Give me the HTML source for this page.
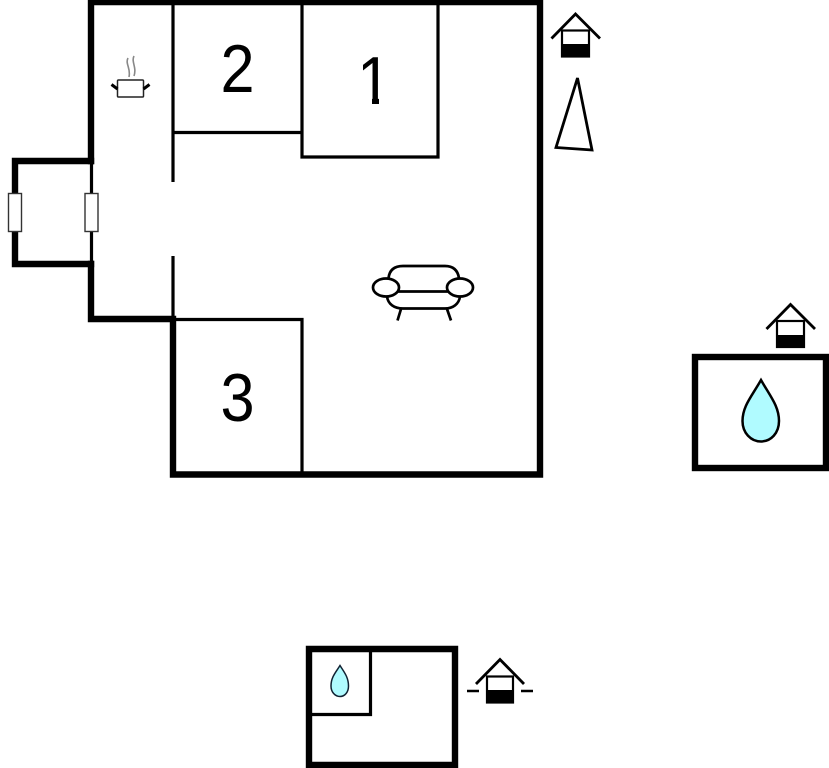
<!DOCTYPE html>
<html>
<head>
<meta charset="utf-8">
<style>
html,body{margin:0;padding:0;background:#fff;width:829px;height:768px;overflow:hidden}
svg{display:block}
text{font-family:"Liberation Sans",sans-serif;font-size:68px;fill:#000;text-anchor:middle}
</style>
</head>
<body>
<svg width="829" height="768" viewBox="0 0 829 768" xmlns="http://www.w3.org/2000/svg" fill="none" stroke="#000">
<!-- main outer walls -->
<g stroke-width="6.400" stroke-linecap="square">
<path d="M91 161V2H540V474.500H173V319H91V264"/>
<path d="M15 161H91M15 264H91M15 161V264"/>
</g>
<!-- thin walls -->
<g stroke-width="3.200">
<path d="M91.500 161V264"/>
<path d="M173 0V182M173 256V320"/>
<path d="M173 132.500H302"/>
<path d="M302 0V157H438V0"/>
<path d="M173 319.500H302V473"/>
</g>
<!-- windows -->
<rect x="8.500" y="193.500" width="13" height="38" fill="#fff" stroke="#333" stroke-width="1.400"/>
<rect x="85" y="193.500" width="13" height="38" fill="#fff" stroke="#333" stroke-width="1.400"/>
<!-- labels -->
<text transform="translate(237.500 92) scale(.9 1)" stroke="none">2</text>
<text transform="translate(374.200 104) scale(.9 1)" stroke="none">1</text>
<rect x="355" y="97" width="17" height="9" fill="#fff" stroke="none"/>
<rect x="379" y="97" width="17" height="9" fill="#fff" stroke="none"/>
<text transform="translate(237.500 421) scale(.9 1)" stroke="none">3</text>
<!-- pot -->
<rect x="117.500" y="80" width="26" height="17" rx="1" stroke-width="1.500" stroke="#222"/>
<path d="M111.500 84.500L117.500 89M149.500 84.500L143.500 89" stroke-width="3"/>
<path d="M128 58C125 64 131 68 129 77M134 56C131 62 137 67 134 76" stroke="#888" stroke-width="1.600"/>
<!-- sofa -->
<g stroke-width="2.700">
<path d="M388.500 278Q390 266 403 266H445Q457 266 459 278"/>
<ellipse cx="386" cy="287.500" rx="13" ry="9"/>
<ellipse cx="460" cy="287.500" rx="13" ry="9"/>
<path d="M398 291.500H448"/>
<path d="M387 296.500C388 304 394 308.500 403 308.500H445C453 308.500 459 304 460 296.500"/>
<path d="M401 309L397.500 320.500M447 309L451 320.500"/>
</g>
<!-- house 1 -->
<path d="M551.500 38.500L575.500 14L600 38.500" stroke-width="2.800"/>
<rect x="562" y="30.500" width="27" height="26" stroke-width="2.200"/>
<rect x="561" y="44" width="29" height="13" fill="#000" stroke="none"/>
<!-- triangle -->
<path d="M577.500 78L556 147.500L592 150Z" stroke-width="2.800"/>
<!-- house 2 -->
<path d="M766.500 329L790.500 304.500L815 329" stroke-width="2.800"/>
<rect x="777" y="321" width="27" height="26" stroke-width="2.200"/>
<rect x="776" y="335" width="29" height="13" fill="#000" stroke="none"/>
<!-- right box -->
<rect x="695" y="357" width="131" height="111" stroke-width="6.400"/>
<path d="M761 380C770 396 779 406 779 421C779 433 771 441.500 761 441.500C751 441.500 742.500 433 742.500 421C742.500 406 752 396 761 380Z" fill="#b0fbff" stroke-width="2.500"/>
<!-- bottom box -->
<path d="M309 768V649H455V768" stroke-width="6.400"/>
<path d="M306 765H458" stroke-width="6.400"/>
<path d="M370.500 650V714.500H311" stroke-width="3.200"/>
<path d="M340 665.500C344 672 348.500 677 348.500 686C348.500 692 345 696.500 340 696.500C335 696.500 331 692 331 686C331 677 336 672 340 665.500Z" fill="#b0fbff" stroke="#123" stroke-width="1.500"/>
<!-- house 3 -->
<path d="M476 684L500 659.500L524 684" stroke-width="2.800"/>
<rect x="487" y="676.500" width="26" height="26" stroke-width="2.200"/>
<rect x="486" y="690" width="28" height="13.500" fill="#000" stroke="none"/>
<path d="M467 691H479M521 691H533" stroke-width="2.500"/>
</svg>
</body>
</html>
